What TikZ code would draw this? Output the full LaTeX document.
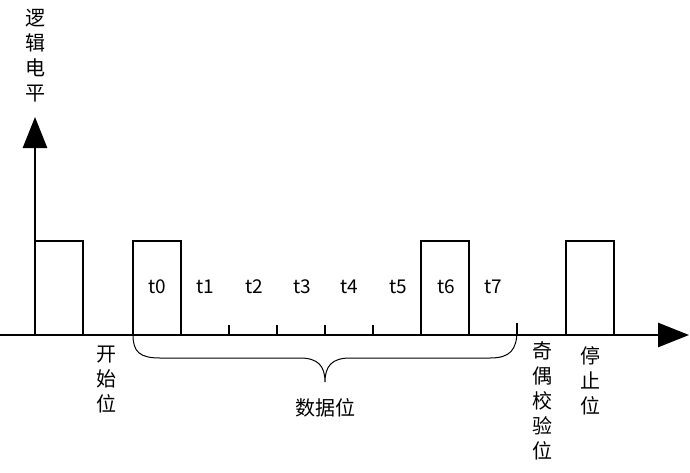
\documentclass[tikz,border=0pt]{standalone}
\usepackage{fontspec}
\setmainfont{Noto Sans CJK SC}
\usetikzlibrary{arrows.meta}
\begin{document}
\begin{tikzpicture}[x=1pt,y=-1pt,
  sig/.style={line width=2.8pt,line join=miter,line cap=rect},
  axisline/.style={line width=2.8pt,-{Triangle[length=31pt,width=24pt]}},
  tickmark/.style={line width=2.3pt},
  lbl/.style={inner sep=0pt,font=\fontsize{19}{22}\selectfont},
  vlbl/.style={inner sep=0pt,align=center,anchor=north,font=\fontsize{20}{25}\selectfont},
  bracestyle/.style={line width=1pt}]
\useasboundingbox (0,0) rectangle (690,472);
% axes
\coordinate (o) at (35,335);
\coordinate (ytip) at (35,117);
\coordinate (xstart) at (0,335);
\coordinate (xtip) at (689,335);
\draw[axisline] (o) -- (ytip);
\draw[axisline] (xstart) -- (xtip);
% pulses
\draw[sig] (35,241) -- (83,241) -- (83,335);
\draw[sig] (133,335) -- (133,241) -- (181,241) -- (181,335);
\draw[sig] (421,335) -- (421,241) -- (469,241) -- (469,335);
\draw[sig] (566,335) -- (566,241) -- (614,241) -- (614,335);
% ticks
\foreach \x in {229,277,325,373} \draw[tickmark] (\x,325) -- (\x,335);
\draw[tickmark] (517,323) -- (517,335);
% bit labels
\node[lbl] (t0) at (157,287) {t0};
\node[lbl] (t1) at (205,287) {t1};
\node[lbl] (t2) at (254,287) {t2};
\node[lbl] (t3) at (302,287) {t3};
\node[lbl] (t4) at (349,287) {t4};
\node[lbl] (t5) at (398,287) {t5};
\node[lbl] (t6) at (446,287) {t6};
\node[lbl] (t7) at (493,287) {t7};
% brace
\draw[bracestyle] (133,335) .. controls (133,352) and (140,358) .. (160,358) -- (300,358)
  .. controls (318,358) and (325,366) .. (325,382)
  .. controls (325,366) and (332,358) .. (350,358) -- (490,358)
  .. controls (510,358) and (517,350) .. (517,330);
% labels
\node[vlbl] (ylab) at (35,9) {逻\\辑\\电\\平};
\node[vlbl] (start) at (106,346) {开\\始\\位};
\node[vlbl] (parity) at (542,341) {奇\\偶\\校\\验\\位};
\node[vlbl] (stop) at (590,346) {停\\止\\位};
\node[lbl,font=\fontsize{20}{25}\selectfont] (data) at (325,408) {数据位};
\end{tikzpicture}
\end{document}
